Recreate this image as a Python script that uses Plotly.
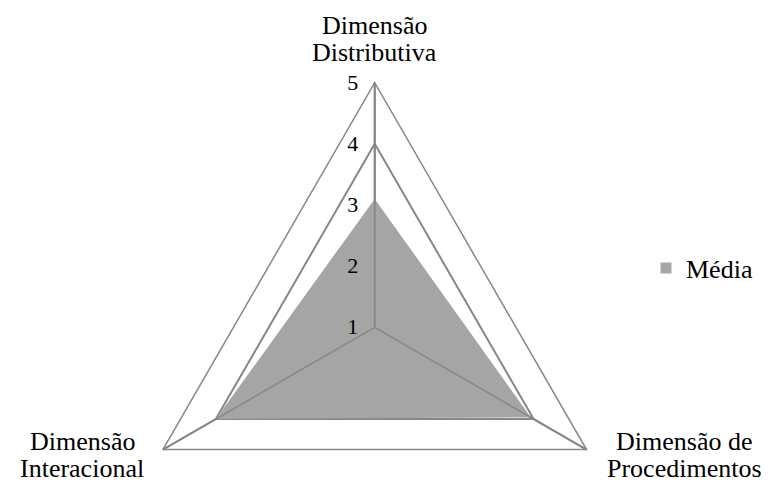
"""Radar chart: média por dimensão."""

import plotly.graph_objects as go

dimensoes = ["Dimensão Distributiva", "Dimensão de Procedimentos", "Dimensão Interacional"]
rotulos = [["Dimensão", "Distributiva"], ["Dimensão de", "Procedimentos"], ["Dimensão", "Interacional"]]
media = [3.1, 3.95, 4.0]
escala = [1, 2, 3, 4, 5]

GRID = "#878787"
FILL = "#A5A5A5"
FONT = "Liberation Serif, Times New Roman, serif"

# page body has an 8px margin, so figure coords are page coords minus 8
W, H = 757, 564
cx, cy, R = 366.7, 319.3, 244.6

fig = go.Figure()
fig.add_trace(go.Scatterpolar(
    r=media, theta=dimensoes, fill="toself", fillcolor=FILL,
    mode="lines", line=dict(color=FILL, width=0),
    name="Média", showlegend=False, hoverinfo="skip",
))
# spokes drawn above the filled area, as in the source chart
for d in dimensoes:
    fig.add_trace(go.Scatterpolar(
        r=[escala[0], escala[-1]], theta=[d, d], mode="lines",
        line=dict(color=GRID, width=1.5), showlegend=False, hoverinfo="skip",
    ))
# legend entry with a square swatch
fig.add_trace(go.Scatterpolar(
    r=[None], theta=[None], mode="markers", name="Média",
    marker=dict(symbol="square", size=11, color=FILL),
))

# category labels, one annotation per line to keep the tight line spacing
label_pos = [(cx, [18, 44]), (676, [434, 460]), (74, [434, 460])]
for linhas, (x, ys) in zip(rotulos, label_pos):
    for txt, y in zip(linhas, ys):
        fig.add_annotation(text=txt, x=x / W, y=1 - y / H, xref="paper", yref="paper",
                           xanchor="center", yanchor="middle", showarrow=False,
                           font=dict(size=26))

fig.update_layout(
    width=W, height=H,
    margin=dict(l=0, r=0, t=0, b=0),
    paper_bgcolor="white", plot_bgcolor="white",
    font=dict(family=FONT, size=24, color="black"),
    polar=dict(
        domain=dict(x=[(cx - R) / W, (cx + R) / W], y=[max(0, 1 - (cy + R) / H), 1 - (cy - R) / H]),
        bgcolor="white",
        gridshape="linear",
        angularaxis=dict(
            rotation=90, direction="clockwise",
            categoryorder="array", categoryarray=dimensoes,
            showticklabels=False,
            showline=True, linecolor=GRID, linewidth=1.5,
            showgrid=True, gridcolor=GRID, gridwidth=1.5,
            ticks="",
        ),
        radialaxis=dict(
            range=[escala[0], escala[-1]], tickvals=escala, angle=90,
            side="counterclockwise", tickangle=90,
            showline=True, linecolor=GRID, linewidth=1.5,
            showgrid=True, gridcolor=GRID, gridwidth=1.5,
            ticks="outside", ticklen=8, tickcolor="rgba(0,0,0,0)",
            tickfont=dict(size=22),
        ),
    ),
    legend=dict(x=638 / W, xanchor="left", y=1 - 260 / H, yanchor="middle",
                font=dict(size=26), bgcolor="rgba(0,0,0,0)"),
)

fig.write_html("out.html")
